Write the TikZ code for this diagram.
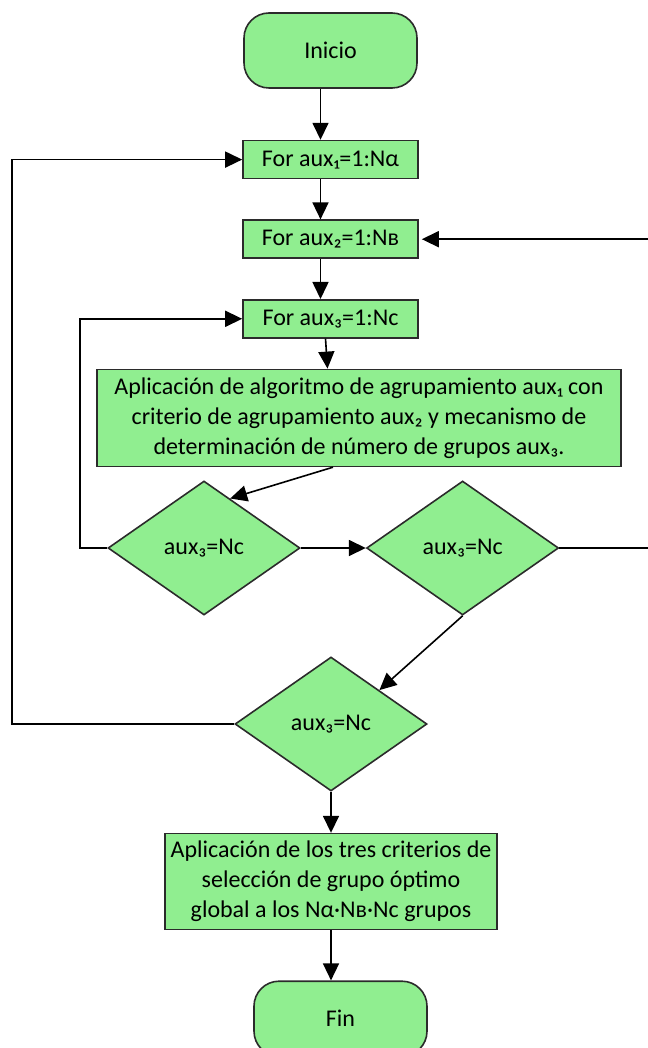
\documentclass[tikz,border=0pt]{standalone}
\usepackage{fontspec}
\setmainfont{Carlito}
\usetikzlibrary{positioning,arrows.meta,shapes.geometric,calc}
\definecolor{flowgreen}{HTML}{90EE90}
\definecolor{flowedge}{HTML}{2B2B2B}
\begin{document}
\begin{tikzpicture}[
x=1pt, y=-1pt,
font=\fontsize{24}{30}\selectfont,
box/.style={draw=flowedge, line width=1.6pt, fill=flowgreen, align=center, inner sep=0pt},
loopbox/.style={box, minimum width=175pt, minimum height=38pt},
term/.style={box, rounded corners=25pt, minimum width=173pt, minimum height=75pt},
test/.style={box, diamond, minimum width=192pt, minimum height=134pt},
arrow/.style={-{Triangle[length=17pt,width=16pt]}, line width=1.6pt},
node distance=40pt
]
\useasboundingbox (0,0) rectangle (647,1048);
\node[term] (inicio) at (330.5,50.5) {Inicio};
\node[loopbox, below=51pt of inicio] (for1) {For aux₁=1:Nα};
\node[loopbox, below=of for1] (for2) {For aux₂=1:Nв};
\node[loopbox, below=of for2] (for3) {For aux₃=1:Nc};
\node[box, minimum width=524pt, minimum height=97pt, below=30pt of for3, xshift=28.5pt] (algo) {Aplicación de algoritmo de agrupamiento aux₁ con\\criterio de agrupamiento aux₂ y mecanismo de\\determinación de número de grupos aux₃.};

\node[test] (d1) at (204,548) {aux₃=Nc};
\node[test, right=65pt of d1] (d2) {aux₃=Nc};
\node[test] (d3) at (331,724) {aux₃=Nc};

\node[box, minimum width=332pt, minimum height=96pt, below=41pt of d3] (sel) {Aplicación de los tres criterios de\\selección de grupo óptimo\\global a los Nα·Nв·Nc grupos};
\node[term, below=50pt of sel, xshift=9.5pt] (fin) {Fin};

\draw[arrow] ([xshift=-10pt]inicio.south) -- ([xshift=-10pt]for1.north);
\draw[arrow] ([xshift=-10pt]for1.south) -- ([xshift=-10pt]for2.north);
\draw[arrow] ([xshift=-10pt]for2.south) -- ([xshift=-10pt]for3.north);
\draw[arrow] ([xshift=-5pt]for3.south) -- ([xshift=-3pt]for3.south |- algo.north);
\draw[arrow] ([xshift=-26pt]algo.south) -- ($(d1.north)!0.27!(d1.east)$);
\draw[arrow] (d1.east) -- (d2.west);
\draw[arrow] (d2.south) -- ($(d3.north)!0.5!(d3.east)$);
\draw[arrow] (d3.south) -- (sel.north);
\draw[arrow] (sel.south) -- (sel.south |- fin.north);
\draw[arrow] (d1.west) -- ++(-27,0) |- (for3.west);
\draw[arrow] (d3.west) -- ++(-222,0) |- (for1.west);
\draw[arrow] (d2.east) -- ++(94,0) |- ([xshift=3pt]for2.east);
\end{tikzpicture}
\end{document}
